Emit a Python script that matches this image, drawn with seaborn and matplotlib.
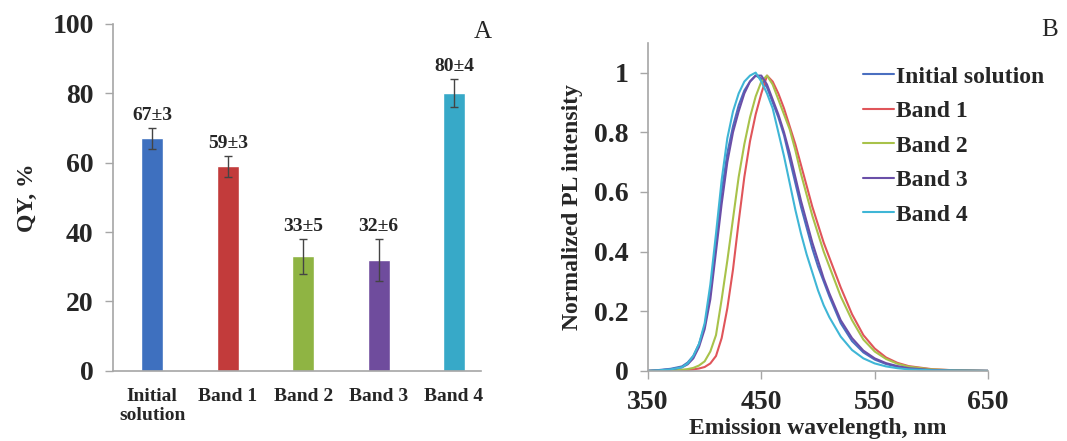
import pandas as pd
import seaborn as sns
import matplotlib.pyplot as plt
from matplotlib.ticker import FuncFormatter

# Panel A data: quantum yield of the starting solution and each band
samples = ['Initial\nsolution', 'Band 1', 'Band 2', 'Band 3', 'Band 4']
qy = [67, 59, 33, 32, 80]
qy_err = [3, 3, 5, 6, 4]
bar_colors = ['#3e70bf', '#c23b3b', '#8fb443', '#6f4c9d', '#37a9c8']

# Panel B data: normalized PL spectra
wavelength = [350, 360, 370, 380, 385, 390, 395, 400, 405, 410,
              415, 420, 425, 430, 435, 440, 445, 450, 455, 460,
              465, 470, 475, 480, 485, 490, 495, 500, 505, 510,
              520, 530, 540, 550, 560, 570, 580, 600, 620, 650]
pl_initial = [0, 0.003, 0.007, 0.015, 0.028, 0.05, 0.09, 0.15, 0.26, 0.43,
              0.60, 0.73, 0.82, 0.89, 0.94, 0.97, 0.99, 0.98, 0.95, 0.90,
              0.85, 0.79, 0.71, 0.63, 0.55, 0.48, 0.41, 0.35, 0.30, 0.25,
              0.16, 0.10, 0.062, 0.038, 0.023, 0.014, 0.008, 0.003, 0.001, 0]
pl_band1 = [0, 0, 0.001, 0.002, 0.003, 0.005, 0.008, 0.013, 0.025, 0.05,
            0.11, 0.21, 0.34, 0.50, 0.65, 0.77, 0.86, 0.93, 0.99, 0.97,
            0.93, 0.88, 0.82, 0.76, 0.69, 0.62, 0.55, 0.49, 0.43, 0.38,
            0.28, 0.19, 0.12, 0.075, 0.045, 0.027, 0.016, 0.006, 0.002, 0]
pl_band2 = [0, 0.001, 0.002, 0.004, 0.006, 0.01, 0.018, 0.032, 0.065, 0.12,
            0.24, 0.37, 0.51, 0.65, 0.76, 0.85, 0.92, 0.97, 0.99, 0.96,
            0.91, 0.86, 0.81, 0.74, 0.66, 0.59, 0.52, 0.46, 0.40, 0.35,
            0.25, 0.17, 0.105, 0.065, 0.04, 0.024, 0.014, 0.005, 0.002, 0]
pl_band3 = [0, 0.002, 0.005, 0.012, 0.022, 0.042, 0.08, 0.14, 0.24, 0.40,
            0.56, 0.70, 0.80, 0.87, 0.93, 0.97, 0.99, 0.99, 0.96, 0.91,
            0.86, 0.80, 0.73, 0.65, 0.57, 0.50, 0.43, 0.37, 0.31, 0.26,
            0.17, 0.11, 0.068, 0.042, 0.026, 0.016, 0.009, 0.003, 0.001, 0]
pl_band4 = [0, 0.002, 0.005, 0.012, 0.025, 0.05, 0.09, 0.16, 0.29, 0.46,
            0.64, 0.78, 0.87, 0.93, 0.97, 0.99, 1.0, 0.97, 0.93, 0.88,
            0.80, 0.72, 0.63, 0.54, 0.46, 0.39, 0.33, 0.27, 0.22, 0.18,
            0.115, 0.07, 0.042, 0.025, 0.015, 0.009, 0.005, 0.002, 0.001, 0]
spectra_names = ['Initial solution', 'Band 1', 'Band 2', 'Band 3', 'Band 4']
line_colors = ['#4a6fc0', '#e0555a', '#a8c24a', '#6a4fa8', '#3fb6d6']

sns.set_style('white')
plt.rcParams['font.family'] = ['Liberation Serif', 'DejaVu Serif']
plt.rcParams['font.weight'] = 'bold'

spine_gray = '#a6a6a6'

fig = plt.figure(figsize=(10.67, 4.41), dpi=100)
ax_a = fig.add_axes([0.106, 0.159, 0.345, 0.787])
ax_b = fig.add_axes([0.6073, 0.159, 0.3187, 0.744])

# ---- Panel A: bars with error bars ----
qy_df = pd.DataFrame({'sample': samples, 'qy': qy})
sns.barplot(data=qy_df, x='sample', y='qy', hue='sample', palette=bar_colors,
            width=0.29, errorbar=None, legend=False, ax=ax_a, saturation=1)
ax_a.errorbar(range(len(qy)), qy, yerr=qy_err, fmt='none',
              ecolor='#444444', elinewidth=1, capsize=3, capthick=1)
for i, (v, e) in enumerate(zip(qy, qy_err)):
    ax_a.annotate(f'{v}±{e}', (i, v + e), xytext=(0, 3), textcoords='offset points',
                  ha='center', va='bottom', fontsize=14, fontweight='bold')

ax_a.set_xlim(-0.52, 4.36)
ax_a.set_ylim(0, 100)
ax_a.set_yticks([0, 20, 40, 60, 80, 100])
ax_a.set_xlabel('')
ax_a.set_ylabel('QY, %', fontsize=17, fontweight='bold')
ax_a.yaxis.set_label_coords(-0.205, 0.5)
ax_a.tick_params(axis='y', length=6, width=1, color=spine_gray, labelsize=20, pad=8, left=True)
ax_a.tick_params(axis='x', length=0, labelsize=14, pad=12)
fig.text(483 / 1067, 1 - 32 / 441, 'A', ha='center', va='center',
         fontsize=18, fontweight='normal')

# ---- Panel B: normalized PL spectra ----
spectra = pd.DataFrame({'wavelength': wavelength, 'Initial solution': pl_initial,
                        'Band 1': pl_band1, 'Band 2': pl_band2,
                        'Band 3': pl_band3, 'Band 4': pl_band4})
spectra_long = spectra.melt(id_vars='wavelength', var_name='sample', value_name='pl')
sns.lineplot(data=spectra_long, x='wavelength', y='pl', hue='sample',
             hue_order=spectra_names, palette=line_colors, linewidth=1.5, ax=ax_b)

ax_b.set_xlim(350, 650)
ax_b.set_ylim(0, 1.1)
ax_b.set_xticks([350, 450, 550, 650])
ax_b.set_yticks([0, 0.2, 0.4, 0.6, 0.8, 1.0])
ax_b.yaxis.set_major_formatter(FuncFormatter(lambda v, p: f'{v:g}'))
ax_b.set_xlabel('Emission wavelength, nm', fontsize=17, fontweight='bold')
ax_b.set_ylabel('Normalized PL intensity', fontsize=17, fontweight='bold')
ax_b.xaxis.set_label_coords(0.5, -0.145)
ax_b.yaxis.set_label_coords(-0.19, 0.5)
ax_b.tick_params(axis='y', length=6, width=1, color=spine_gray, labelsize=20, pad=8, left=True)
ax_b.tick_params(axis='x', length=6, width=1, color=spine_gray, labelsize=20, pad=8, bottom=True)
ax_b.legend(loc='upper left', bbox_to_anchor=(0.809, 0.85), bbox_transform=fig.transFigure,
            frameon=False, fontsize=17, handlelength=1.3, handletextpad=0.1,
            labelspacing=0.55, borderpad=0, borderaxespad=0)
fig.text(1050 / 1067, 1 - 30 / 441, 'B', ha='center', va='center',
         fontsize=18, fontweight='normal')

for ax in (ax_a, ax_b):
    for side in ('top', 'right'):
        ax.spines[side].set_visible(False)
    for side in ('left', 'bottom'):
        ax.spines[side].set_color(spine_gray)
        ax.spines[side].set_linewidth(1.2)
    for lab in ax.get_xticklabels() + ax.get_yticklabels():
        lab.set_fontweight('bold')

fig.savefig('out.png', dpi=100)
